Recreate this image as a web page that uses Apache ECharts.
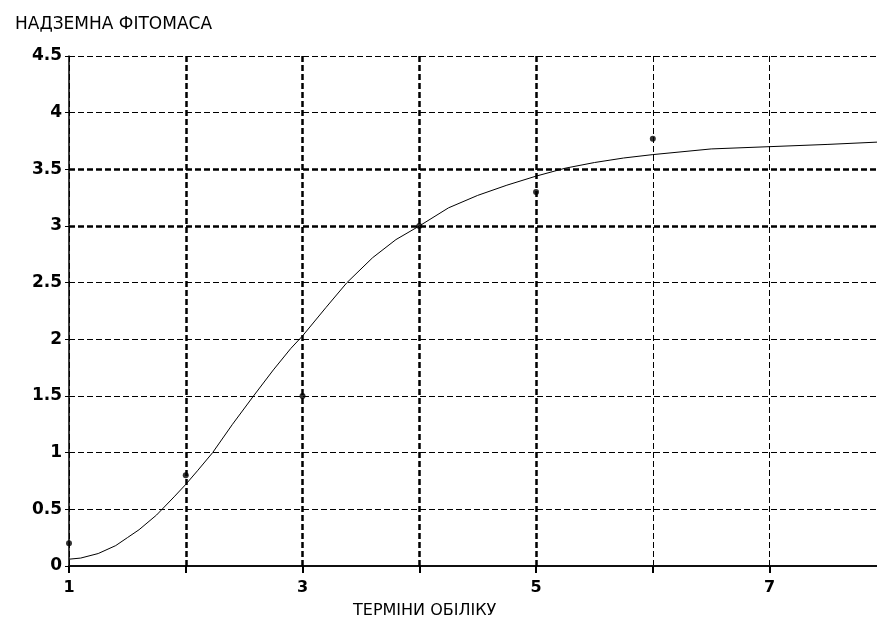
<!DOCTYPE html>
<html>
<head>
<meta charset="utf-8">
<script src="https://cdn.jsdelivr.net/npm/echarts@6/dist/echarts.min.js"></script>
<style>html,body{margin:0;padding:0;background:#fff;}#c{width:877px;height:628px;}</style>
</head>
<body>
<div id="c"></div>
<script>
var titleText = 'НАДЗЕМНА ФІТОМАСА';
var xAxisName = 'ТЕРМІНИ ОБІЛІКУ';
var xLabelShown = [1, 3, 5, 7];
var observedX = [1, 2, 3, 4, 5, 6];
var observedY = [0.2, 0.8, 1.5, 3.0, 3.3, 3.77];
var curveX = [1.0, 1.1, 1.25, 1.4, 1.5, 1.6, 1.75, 1.9, 2.0, 2.1, 2.23, 2.4, 2.58, 2.75, 2.9, 3.0, 3.2, 3.38, 3.6, 3.8, 4.0, 4.25, 4.5, 4.75, 5.0, 5.25, 5.5, 5.75, 6.0, 6.5, 7.0, 7.5, 7.92];
var curveY = [0.06, 0.07, 0.11, 0.18, 0.25, 0.32, 0.45, 0.61, 0.72, 0.84, 1.0, 1.25, 1.5, 1.73, 1.92, 2.03, 2.28, 2.5, 2.72, 2.88, 3.0, 3.16, 3.27, 3.36, 3.44, 3.51, 3.56, 3.6, 3.63, 3.68, 3.70, 3.72, 3.74];

var observed = observedX.map(function (x, i) { return [x, observedY[i]]; });
var curve = curveX.map(function (x, i) { return [x, curveY[i]]; });

var chart = echarts.init(document.getElementById('c'), null, {renderer: 'canvas'});
var font = 'DejaVu Sans, Arial, sans-serif';
chart.setOption({
  animation: false,
  backgroundColor: '#fff',
  title: [
    {text: titleText, left: 10, top: 11, textStyle: {fontFamily: font, fontSize: 17, fontWeight: 'normal', color: '#000'}},
    {text: xAxisName, left: 348, top: 598, textStyle: {fontFamily: font, fontSize: 16, fontWeight: 'normal', color: '#000'}}
  ],
  grid: {left: 69, top: 56, right: 0, bottom: 62, containLabel: false},
  xAxis: [{
    type: 'value', min: 1, max: 7.92, interval: 1,
    axisLine: {show: true, onZero: false, lineStyle: {color: '#111', width: 2}},
    axisTick: {show: true, length: 7, inside: false, lineStyle: {color: '#000', width: 2}},
    axisLabel: {
      color: '#000', fontFamily: font, fontSize: 16, fontWeight: 'bold', margin: 14,
      showMaxLabel: false,
      formatter: function (v) { return xLabelShown.indexOf(v) >= 0 ? String(v) : ''; }
    },
    splitLine: {show: true, lineStyle: {color: '#000', width: 1, type: [6, 3]}}
  }, {
    type: 'value', min: 1, max: 7.92, position: 'top',
    axisLine: {show: true, lineStyle: {color: '#111', width: 1.5}},
    axisTick: {show: false}, axisLabel: {show: false}, splitLine: {show: false}
  }],
  yAxis: {
    type: 'value', min: 0, max: 4.5, interval: 0.5,
    axisLine: {show: true, onZero: false, lineStyle: {color: '#000', width: 1.5}},
    axisTick: {show: true, length: 4, lineStyle: {color: '#000', width: 1}},
    axisLabel: {color: '#000', fontFamily: font, fontSize: 17, fontWeight: 'bold', margin: 7},
    splitLine: {show: true, lineStyle: {color: '#000', width: 1, type: [6, 3]}}
  },
  series: [{
    type: 'line', data: curve, showSymbol: false, smooth: false,
    lineStyle: {color: '#000', width: 1}, z: 3,
    markLine: {
      silent: true, symbol: 'none', label: {show: false},
      lineStyle: {color: '#000', width: 2.5, type: [6, 3]},
      data: [{xAxis: 2}, {xAxis: 3}, {xAxis: 4}, {xAxis: 5}, {yAxis: 3}, {yAxis: 3.5}]
    }
  }, {
    type: 'scatter', data: observed, symbol: 'circle', symbolSize: 6,
    itemStyle: {color: '#000'}, z: 4
  }]
});
</script>
</body>
</html>
